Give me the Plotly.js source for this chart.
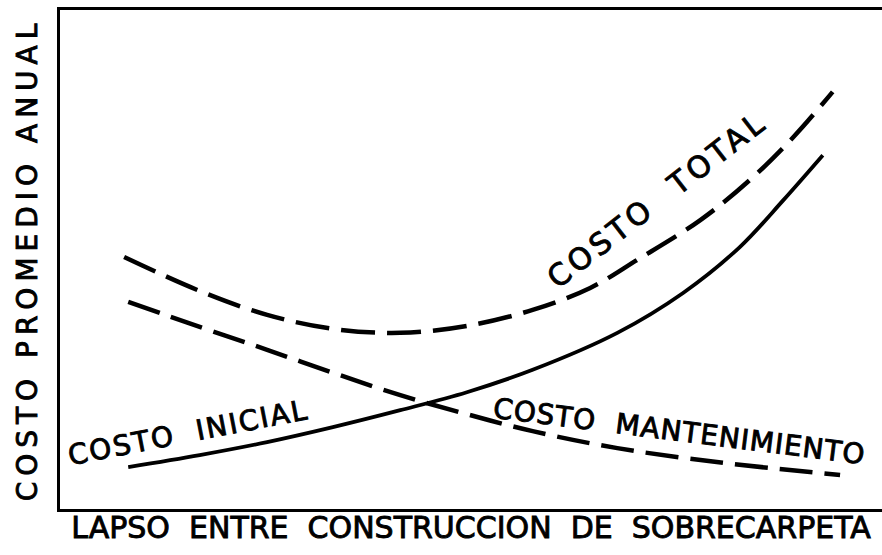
<!DOCTYPE html>
<html>
<head>
<meta charset="utf-8">
<script src="https://cdn.plot.ly/plotly-3.0.1.min.js"></script>
<style>
  body { margin: 0; background: #fff; }
  #chart { width: 882px; height: 555px; }
  .ytitle { letter-spacing: 6px; }
  .xtitle, .ytitle, .annotation-text { stroke: #000; stroke-width: 0.9px; }
  .annotation[data-index="0"] text { letter-spacing: 4px; }
  .annotation[data-index="1"] text { letter-spacing: 2px; }
  .annotation[data-index="2"] text { letter-spacing: 1px; }
</style>
</head>
<body>
<div id="chart"></div>
<script>
// lapso (abstract units, 0-10) and costo promedio anual (0-10)
var xTotal = [0.78, 1.70, 2.52, 3.32, 4.14, 4.95, 5.75, 6.45, 7.02, 7.79, 8.39, 8.92, 9.40];
var yTotal = [5.05, 4.37, 3.89, 3.61, 3.53, 3.67, 3.99, 4.43, 4.99, 5.79, 6.59, 7.45, 8.36];

var xMant = [0.83, 1.70, 2.52, 3.32, 4.14, 4.95, 5.75, 6.78, 7.99, 9.49];
var yMant = [4.15, 3.65, 3.19, 2.73, 2.28, 1.90, 1.56, 1.22, 0.94, 0.68];

var xInicial = [0.83, 1.70, 2.52, 3.32, 4.14, 4.95, 5.75, 6.78, 7.58, 8.27, 8.80, 9.28];
var yInicial = [0.84, 1.08, 1.34, 1.64, 1.98, 2.34, 2.79, 3.53, 4.33, 5.25, 6.19, 7.09];

var labels = ['COSTO  TOTAL', 'COSTO  INICIAL', 'COSTO  MANTENIMIENTO'];
var labelX = [7.26, 1.56, 7.54];
var labelY = [6.21, 1.54, 1.56];
var labelAngle = [-37.7, -11, 7.2];
var labelSize = [30, 28, 28];

var font = 'DejaVu Sans, Liberation Sans, sans-serif';

var trace1 = {
  type: 'scatter',
  mode: 'lines',
  name: 'Costo total',
  x: xTotal,
  y: yTotal,
  line: {color: '#000', width: 4.5, dash: '34px,12px', shape: 'spline'}
};

var trace2 = {
  type: 'scatter',
  mode: 'lines',
  name: 'Costo mantenimiento',
  x: xMant,
  y: yMant,
  line: {color: '#000', width: 4.5, dash: '33px,12px', shape: 'spline'}
};

var trace3 = {
  type: 'scatter',
  mode: 'lines',
  name: 'Costo inicial',
  x: xInicial,
  y: yInicial,
  line: {color: '#000', width: 3.8, shape: 'spline'}
};

var data = [trace1, trace2, trace3];

var annotations = labels.map(function (t, i) {
  return {
    text: t,
    x: labelX[i],
    y: labelY[i],
    xref: 'x',
    yref: 'y',
    showarrow: false,
    textangle: labelAngle[i],
    xanchor: 'center',
    yanchor: 'middle',
    font: {family: font, size: labelSize[i], color: '#000'}
  };
});

var layout = {
  width: 882,
  height: 555,
  margin: {l: 60, r: 0, t: 10, b: 46},
  showlegend: false,
  paper_bgcolor: '#fff',
  plot_bgcolor: '#fff',
  annotations: annotations,
  xaxis: {
    range: [0, 10],
    autorange: false,
    showgrid: false,
    zeroline: false,
    showline: true,
    mirror: true,
    linecolor: '#000',
    linewidth: 3,
    ticks: '',
    showticklabels: false,
    automargin: false,
    title: {
      text: 'LAPSO  ENTRE  CONSTRUCCION  DE  SOBRECARPETA',
      standoff: 6,
      font: {family: font, size: 30, color: '#000'}
    }
  },
  yaxis: {
    range: [0, 10],
    autorange: false,
    showgrid: false,
    zeroline: false,
    showline: true,
    mirror: false,
    linecolor: '#000',
    linewidth: 3,
    ticks: '',
    showticklabels: false,
    automargin: false,
    title: {
      text: 'COSTO PROMEDIO ANUAL',
      standoff: 12,
      font: {family: font, size: 28, color: '#000'}
    }
  }
};

Plotly.newPlot('chart', data, layout, {staticPlot: true});
</script>
</body>
</html>
